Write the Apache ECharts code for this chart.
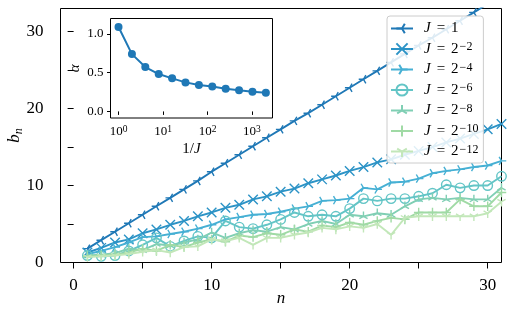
<!DOCTYPE html>
<html><head><meta charset="utf-8">
<script src="https://cdn.jsdelivr.net/npm/echarts@6/dist/echarts.min.js"></script>
<style>html,body{margin:0;padding:0;background:#fff}#c{width:507px;height:313px}</style>
</head><body><div id="c"></div>
<script>
// ---------- data ----------
const N = [1,2,3,4,5,6,7,8,9,10,11,12,13,14,15,16,17,18,19,20,21,22,23,24,25,26,27,28,29,30,31];
const B_J0  = [1.8,2.9,4.0,5.1,6.2,7.3,8.4,9.5,10.6,11.8,12.9,14.0,15.1,16.2,17.3,18.4,19.4,20.5,21.6,22.7,23.8,24.9,26.0,27.1,28.2,29.2,30.3,31.4,32.5,33.6,34.7];
const B_J2  = [1.3,1.9,2.6,3.0,3.8,4.3,4.9,5.4,6.0,6.5,7.1,7.5,8.2,8.6,9.2,9.6,10.3,10.8,11.3,11.9,12.4,13.0,13.4,14.0,14.5,15.0,15.6,16.1,16.7,17.3,18.0];
const B_J4  = [1.1,1.5,2.0,2.6,3.3,3.4,3.7,4.0,4.4,4.9,5.6,5.9,6.2,6.3,6.6,7.0,7.3,8.0,8.1,8.3,9.7,9.5,10.4,10.5,10.9,11.6,11.9,12.1,12.4,12.6,13.2];
const B_J6  = [0.9,0.8,0.9,1.5,2.3,3.2,2.1,2.8,3.4,3.2,5.4,4.6,4.4,4.9,5.6,6.5,6.0,6.2,6.0,7.0,8.3,8.0,8.3,8.3,8.6,9.0,10.1,9.7,10.0,10.0,11.2];
const B_J8  = [0.9,1.0,1.2,1.8,1.6,2.4,2.2,2.6,3.0,3.9,3.2,3.8,4.2,4.0,4.6,4.3,5.0,5.4,5.0,6.2,6.0,6.4,6.2,7.3,8.2,8.4,8.2,8.4,8.2,8.2,9.7];
const B_J10 = [0.8,0.9,1.0,1.3,1.8,1.5,2.3,2.0,2.6,3.0,2.7,3.5,3.3,3.8,3.6,4.3,4.0,4.8,4.6,5.2,4.9,5.4,5.8,5.6,6.5,6.5,6.5,8.2,7.3,7.3,9.1];
const B_J12 = [0.7,0.8,0.9,1.1,1.4,1.6,1.3,2.0,2.1,3.0,2.8,3.2,2.3,3.2,3.2,3.6,3.9,4.5,4.3,4.7,4.5,5.0,3.6,5.8,6.0,6.0,6.0,6.0,6.0,6.4,7.9];
const SERIES_B = [B_J0, B_J2, B_J4, B_J6, B_J8, B_J10, B_J12];
const SERIES_NAMES = ['J=1','J=2^-2','J=2^-4','J=2^-6','J=2^-8','J=2^-10','J=2^-12'];
const SERIES_EXP = ['', '−2', '−4', '−6', '−8', '−10', '−12'];

const INV_J = [1,2,4,8,16,32,64,128,256,512,1024,2048];
const ALPHA = [1.09,0.74,0.573,0.483,0.427,0.375,0.34,0.323,0.293,0.272,0.254,0.241];

const X_TICKS = [0,5,10,15,20,25,30];
const X_LABELS = [0,10,20,30];
const Y_TICKS = [0,5,10,15,20,25,30];
const Y_LABELS = [0,10,20,30];
const INSET_X_LABELS = [1,10,100,1000];
const INSET_Y_LABELS = [0,0.5,1.0];

// ---------- style ----------
const FONT = 'Liberation Serif';
const COLORS = ['#1f78b6','#2c93c6','#46b0d4','#63c5c6','#80cfb4','#a0daa5','#c2e7b9'];
const SYMBOLS = [
  'path://M0 0L-1 0M0 0L0.5 -0.866M0 0L0.5 0.866M-1 -1M1 1',
  'path://M-1 -1L1 1M-1 1L1 -1',
  'path://M0 0L1 0M0 0L-0.5 -0.866M0 0L-0.5 0.866M-1 -1M1 1',
  'path://M1 0A1 1 0 1 1 -1 0A1 1 0 1 1 1 0Z',
  'path://M0 0L0 -1M0 0L-0.866 0.5M0 0L0.866 0.5M-1 -1M1 1',
  'path://M-1 0L1 0M0 -1L0 1',
  'path://M0 0L0 1M0 0L-0.866 -0.5M0 0L0.866 -0.5M-1 -1M1 1'
];

const mainSeries = SERIES_B.map((vals, k) => ({
  type: 'line',
  name: SERIES_NAMES[k],
  xAxisIndex: 0, yAxisIndex: 0,
  data: N.map((n, i) => [n, vals[i]]),
  symbol: SYMBOLS[k],
  symbolSize: 9.5,
  showSymbol: true, showAllSymbol: true,
  lineStyle: { color: COLORS[k], width: 1.9 },
  itemStyle: { color: 'rgba(0,0,0,0)', borderColor: COLORS[k], borderWidth: 1.4 },
  clip: true,
  z: 2 + k
}));

const chart = echarts.init(document.getElementById('c'), null, { renderer: 'canvas' });
chart.setOption({
  animation: false,
  backgroundColor: '#fff',
  textStyle: { fontFamily: FONT, color: '#000' },
  grid: [
    { left: 60.5, top: 8.5, width: 441, height: 254, show: true, borderColor: '#000', borderWidth: 1,
      backgroundColor: 'transparent', containLabel: false, outerBoundsMode: 'none' },
    { left: 110.5, top: 18.5, width: 162, height: 99.5, show: true, borderColor: '#000', borderWidth: 1,
      backgroundColor: '#fff', z: 20, containLabel: false, outerBoundsMode: 'none' }
  ],
  xAxis: [
    {
      type: 'value', gridIndex: 0, min: -0.95, max: 31,
      axisLine: { show: false },
      axisTick: { show: true, length: 6, lineStyle: { color: '#000', width: 1 }, customValues: X_TICKS },
      axisLabel: { customValues: X_LABELS, fontSize: 17, fontFamily: FONT, color: '#000', margin: 15 },
      splitLine: { show: false },
      name: 'n', nameLocation: 'middle', nameGap: 28, nameMoveOverlap: false,
      nameTextStyle: { fontFamily: FONT, fontSize: 17, fontStyle: 'italic', color: '#000' }
    },
    {
      type: 'log', gridIndex: 1, min: 0.66, max: 2890, logBase: 10,
      axisLine: { show: false },
      axisTick: { show: true, length: 3.5, lineStyle: { color: '#000', width: 1 }, customValues: INSET_X_LABELS },
      axisLabel: {
        customValues: INSET_X_LABELS, margin: 6, color: '#000',
        formatter: v => '{b|10}{s|' + Math.round(Math.log10(v)) + '}',
        rich: {
          b: { fontFamily: FONT, fontSize: 13, lineHeight: 15, color: '#000' },
          s: { fontFamily: FONT, fontSize: 9.5, lineHeight: 10, verticalAlign: 'top', color: '#000' }
        }
      },
      splitLine: { show: false },
      name: '{t|1/}{i|J}', nameLocation: 'middle', nameGap: 24, nameMoveOverlap: false,
      nameTextStyle: {
        rich: {
          t: { fontFamily: FONT, fontSize: 15, color: '#000' },
          i: { fontFamily: FONT, fontSize: 15, fontStyle: 'italic', color: '#000' }
        }
      },
      z: 21
    }
  ],
  yAxis: [
    {
      type: 'value', gridIndex: 0, min: 0, max: 33,
      axisLine: { show: false },
      axisTick: { show: true, length: 6, lineStyle: { color: '#000', width: 1 }, customValues: Y_TICKS },
      axisLabel: { customValues: Y_LABELS, fontSize: 17, fontFamily: FONT, color: '#000', margin: 17 },
      splitLine: { show: false },
      name: '{b|b}{s|n}', nameLocation: 'middle', nameGap: 36, nameRotate: 90, nameMoveOverlap: false,
      nameTextStyle: {
        rich: {
          b: { fontFamily: FONT, fontSize: 17, fontStyle: 'italic', lineHeight: 19, color: '#000' },
          s: { fontFamily: FONT, fontSize: 12, fontStyle: 'italic', lineHeight: 12, verticalAlign: 'bottom', color: '#000' }
        }
      }
    },
    {
      type: 'value', gridIndex: 1, min: -0.085, max: 1.2,
      axisLine: { show: false },
      axisTick: { show: true, length: 3.5, lineStyle: { color: '#000', width: 1 }, customValues: INSET_Y_LABELS },
      axisLabel: { customValues: INSET_Y_LABELS, fontSize: 13, fontFamily: FONT, color: '#000', margin: 7,
        formatter: v => v.toFixed(1) },
      splitLine: { show: false },
      name: 'α', nameLocation: 'middle', nameGap: 28, nameRotate: 90, nameMoveOverlap: false,
      nameTextStyle: { fontFamily: FONT, fontSize: 15, fontStyle: 'italic', color: '#000' },
      z: 21
    }
  ],
  legend: {
    data: SERIES_NAMES,
    orient: 'vertical',
    left: 387, top: 16,
    padding: [5, 5, 4, 3],
    itemWidth: 22, itemHeight: 14, itemGap: 5,
    backgroundColor: 'rgba(255,255,255,0.85)',
    borderColor: '#cccccc', borderWidth: 1, borderRadius: 3,
    selectedMode: false,
    formatter: name => {
      const k = SERIES_NAMES.indexOf(name);
      if (k === 0) return '{i|J}{e|=}{t|1}';
      return '{i|J}{e|=}{t|2}{s|' + SERIES_EXP[k] + '}';
    },
    textStyle: {
      rich: {
        i: { fontFamily: FONT, fontSize: 15, fontStyle: 'italic', lineHeight: 16, padding: [0, 0, 0, 6], color: '#000' },
        e: { fontFamily: FONT, fontSize: 15, lineHeight: 16, padding: [0, 6, 0, 6], color: '#000' },
        t: { fontFamily: FONT, fontSize: 15, lineHeight: 16, color: '#000' },
        s: { fontFamily: FONT, fontSize: 12, lineHeight: 11, verticalAlign: 'top', padding: [0, 0, 0, 1], color: '#000' }
      }
    },
    z: 30
  },
  series: mainSeries.concat([{
    type: 'line',
    name: 'alpha',
    xAxisIndex: 1, yAxisIndex: 1,
    data: INV_J.map((x, i) => [x, ALPHA[i]]),
    symbol: 'circle', symbolSize: 8,
    showSymbol: true, showAllSymbol: true,
    lineStyle: { color: '#1f78b6', width: 2 },
    itemStyle: { color: '#1f78b6' },
    z: 25
  }])
});
</script>
</body></html>
